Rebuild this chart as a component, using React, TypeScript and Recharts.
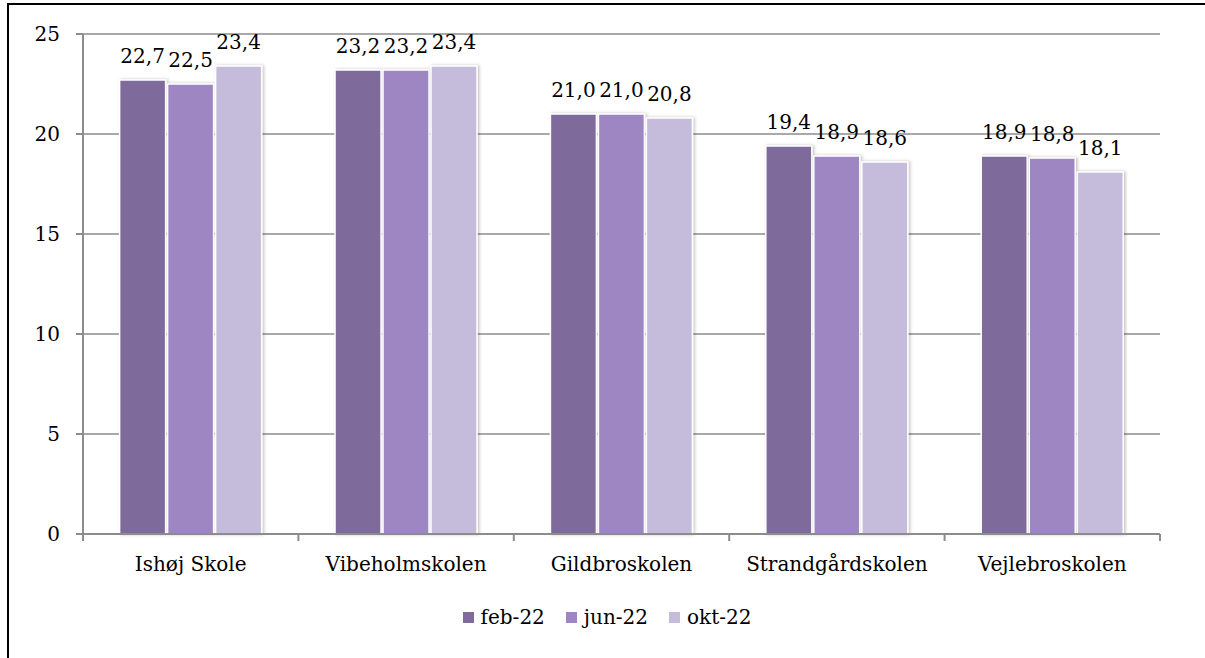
import React from 'react';
import { BarChart, Bar, XAxis, YAxis, CartesianGrid, Legend, LabelList } from 'recharts';

const schools = ['Ishøj Skole', 'Vibeholmskolen', 'Gildbroskolen', 'Strandgårdskolen', 'Vejlebroskolen'];
const feb22 = [22.7, 23.2, 21.0, 19.4, 18.9];
const jun22 = [22.5, 23.2, 21.0, 18.9, 18.8];
const okt22 = [23.4, 23.4, 20.8, 18.6, 18.1];
const yTicks = [0, 5, 10, 15, 20, 25];

const seriesNames = ['feb-22', 'jun-22', 'okt-22'];
const seriesColors = ['#7F6B9C', '#9E86C2', '#C5BBDB'];

const data = schools.map((s, i) => ({ name: s, feb: feb22[i], jun: jun22[i], okt: okt22[i] }));

const FONT = '"DejaVu Serif", serif';
const TICK_SIZE = 7;
const TICK_MARGIN = 16;
const AXIS_COLOR = '#8C8C8C';

const fmt = (v: any) => Number(v).toFixed(1).replace('.', ',');

const CategoryTick = (props: any) => {
  const { x, y, payload, index } = props;
  const half = payload.offset || 0;
  const top = y - TICK_MARGIN - TICK_SIZE;
  const bottom = y - TICK_MARGIN;
  return (
    <g>
      <line x1={x - half} x2={x - half} y1={top} y2={bottom} stroke={AXIS_COLOR} strokeWidth={2} />
      {index === schools.length - 1 && (
        <line x1={x + half} x2={x + half} y1={top} y2={bottom} stroke={AXIS_COLOR} strokeWidth={2} />
      )}
      <text x={x} y={y} dy="0.71em" textAnchor="middle" fontSize={20} fill="#000" fontFamily={FONT}>
        {payload.value}
      </text>
    </g>
  );
};

const LegendContent = () => (
  <div
    style={{
      display: 'flex',
      justifyContent: 'center',
      alignItems: 'center',
      height: 40,
      paddingLeft: 54,
      fontFamily: FONT,
      fontSize: 20,
      color: '#000',
    }}
  >
    {seriesNames.map((n, i) => (
      <div key={n} style={{ display: 'flex', alignItems: 'center', marginRight: i < seriesNames.length - 1 ? 21 : 0 }}>
        <span style={{ display: 'inline-block', width: 11, height: 11, background: seriesColors[i], marginRight: 7 }} />
        <span>{n}</span>
      </div>
    ))}
  </div>
);

export default function App() {
  return (
    <div style={{ position: 'absolute', left: 0, top: 0, width: 1205, height: 658, overflow: 'hidden', background: '#fff', fontFamily: FONT }}>
      <div
        style={{
          position: 'absolute',
          left: 7,
          top: 3,
          width: 1400,
          height: 800,
          borderLeft: '2.5px solid #000',
          borderTop: '2px solid #000',
        }}
      />
      <div style={{ position: 'absolute', left: 0, top: 0 }}>
        <BarChart
          width={1205}
          height={658}
          data={data}
          margin={{ top: 34, right: 45, left: 0, bottom: 21 }}
          barCategoryGap="17%"
          barGap={2}
        >
          <defs>
            <filter id="barShadow" x="-20%" y="-20%" width="140%" height="140%">
              <feDropShadow dx="1.5" dy="0" stdDeviation="1.5" floodColor="#000" floodOpacity="0.25" />
            </filter>
          </defs>
          <CartesianGrid vertical={false} stroke={AXIS_COLOR} strokeWidth={1.5} />
          <XAxis
            dataKey="name"
            height={63}
            axisLine={{ stroke: AXIS_COLOR, strokeWidth: 2 }}
            tickLine={false}
            tickSize={TICK_SIZE}
            tickMargin={TICK_MARGIN}
            tick={<CategoryTick />}
            interval={0}
          />
          <YAxis
            domain={[0, 25]}
            ticks={yTicks}
            width={83}
            axisLine={{ stroke: AXIS_COLOR, strokeWidth: 2 }}
            tickLine={{ stroke: AXIS_COLOR, strokeWidth: 2 }}
            tickSize={TICK_SIZE}
            tickMargin={16}
            tick={{ fontSize: 20, fill: '#000', fontFamily: FONT }}
          />
          <Legend verticalAlign="bottom" height={40} content={<LegendContent />} />
          <Bar dataKey="feb" name={seriesNames[0]} fill={seriesColors[0]} stroke="#fff" strokeWidth={1.5} filter="url(#barShadow)" isAnimationActive={false}>
            <LabelList dataKey="feb" position="top" offset={17} formatter={fmt} style={{ fontSize: 20, fill: '#000', fontFamily: FONT }} />
          </Bar>
          <Bar dataKey="jun" name={seriesNames[1]} fill={seriesColors[1]} stroke="#fff" strokeWidth={1.5} filter="url(#barShadow)" isAnimationActive={false}>
            <LabelList dataKey="jun" position="top" offset={17} formatter={fmt} style={{ fontSize: 20, fill: '#000', fontFamily: FONT }} />
          </Bar>
          <Bar dataKey="okt" name={seriesNames[2]} fill={seriesColors[2]} stroke="#fff" strokeWidth={1.5} filter="url(#barShadow)" isAnimationActive={false}>
            <LabelList dataKey="okt" position="top" offset={17} formatter={fmt} style={{ fontSize: 20, fill: '#000', fontFamily: FONT }} />
          </Bar>
        </BarChart>
      </div>
    </div>
  );
}
